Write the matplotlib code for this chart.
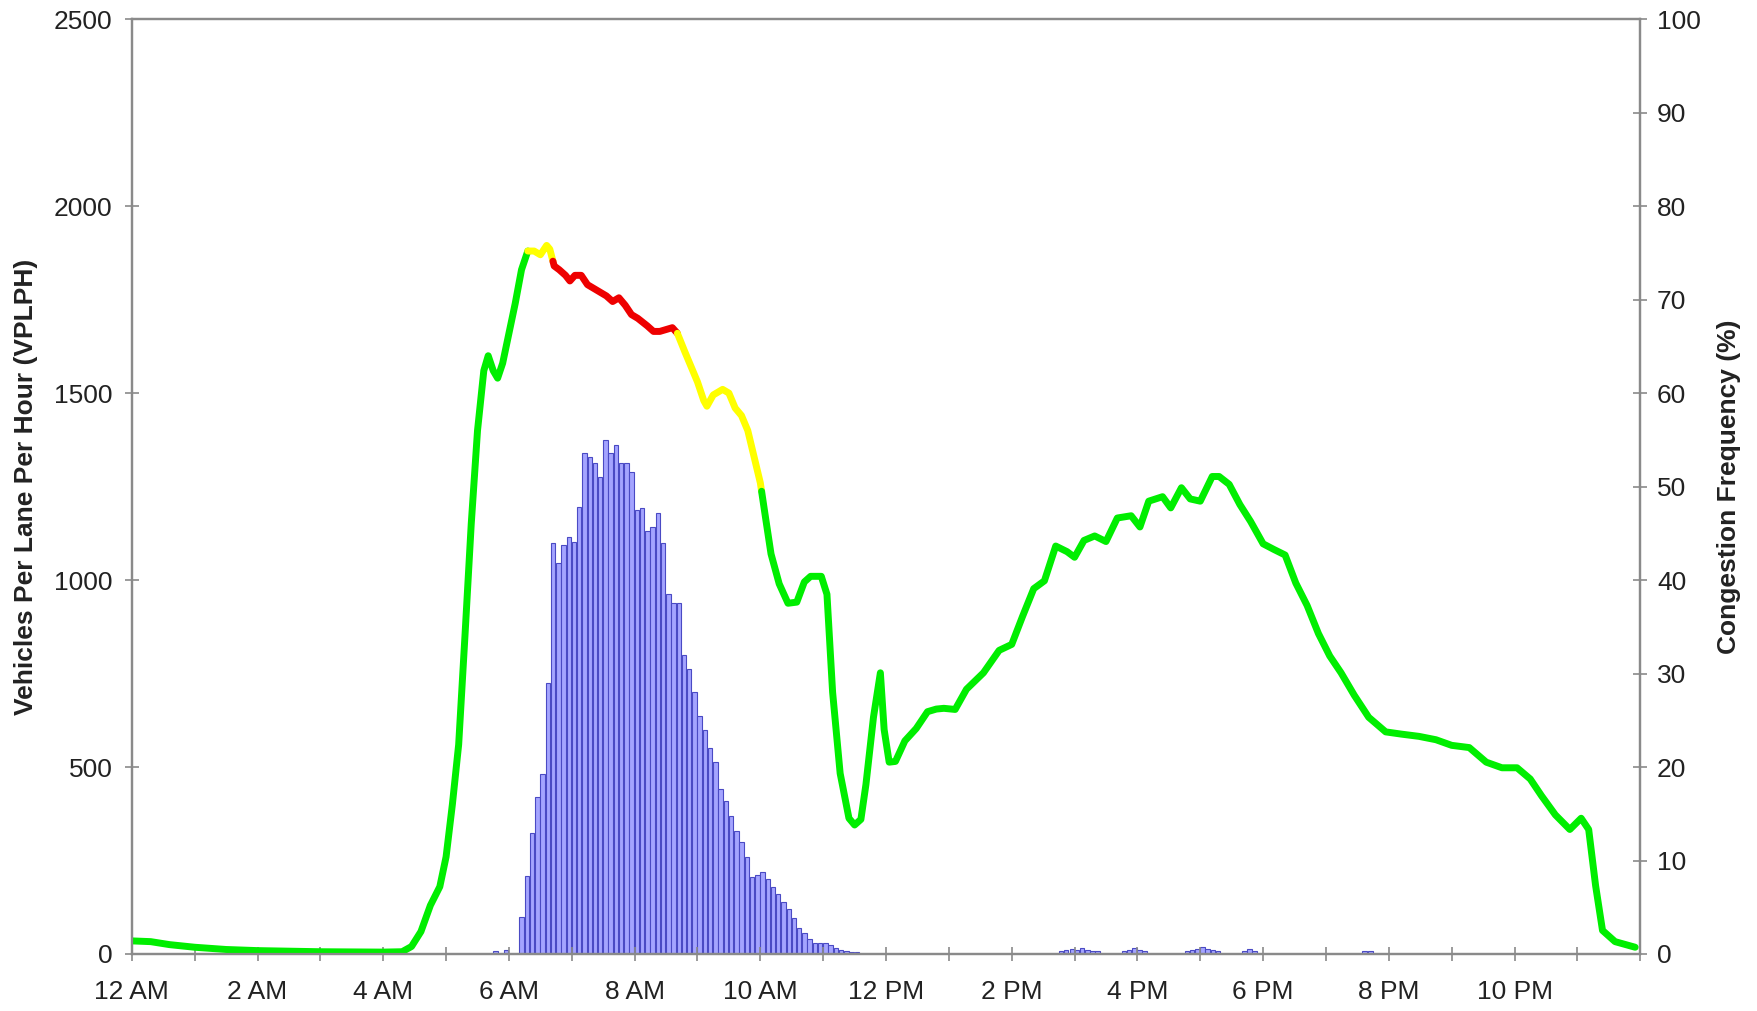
import numpy as np
import matplotlib
matplotlib.use("Agg")
import matplotlib.pyplot as plt

plt.rcParams["font.family"] = ["Liberation Sans", "DejaVu Sans"]
plt.rcParams["font.size"] = 19

# volume line (hour of day, vehicles per lane per hour)
flow_hours = [
    0.0, 0.3, 0.6, 1.0, 1.5, 2.0, 3.0, 4.0, 4.3, 4.45, 4.6, 4.75, 4.9, 5.0,
    5.1, 5.2, 5.3, 5.4, 5.5, 5.6, 5.67, 5.75, 5.82, 5.9, 6.0, 6.1, 6.2, 6.3,
    6.4, 6.5, 6.6, 6.65, 6.72, 6.8, 6.9, 6.97, 7.05, 7.15, 7.25, 7.35, 7.45,
    7.55, 7.65, 7.75, 7.85, 7.95, 8.05, 8.2, 8.3, 8.4, 8.5, 8.6, 8.68, 8.8,
    8.9, 9.0, 9.1, 9.15, 9.25, 9.4, 9.5, 9.6, 9.7, 9.8, 9.9, 10.0, 10.08,
    10.17, 10.3, 10.44, 10.58, 10.7, 10.8, 10.97, 11.06, 11.15, 11.27, 11.41,
    11.5, 11.6, 11.68, 11.8, 11.91, 11.97, 12.05, 12.15, 12.3, 12.48, 12.66,
    12.8, 12.92, 13.1, 13.28, 13.55, 13.8, 14.0, 14.17, 14.35, 14.52, 14.7,
    14.88, 15.0, 15.15, 15.32, 15.5, 15.68, 15.9, 16.04, 16.18, 16.4, 16.53,
    16.7, 16.84, 17.0, 17.19, 17.3, 17.46, 17.63, 17.8, 18.0, 18.17, 18.35,
    18.52, 18.7, 18.88, 19.06, 19.24, 19.45, 19.68, 19.95, 20.2, 20.48,
    20.75, 21.0, 21.28, 21.55, 21.8, 22.04, 22.25, 22.43, 22.65, 22.88,
    23.06, 23.18, 23.29, 23.4, 23.6, 23.92,
]
flow_vplph = [
    35, 33, 25, 18, 12, 9, 6, 5, 6, 20, 60, 130, 180, 260,
    400, 560, 850, 1150, 1400, 1560, 1600, 1560, 1540, 1580, 1660, 1740, 1830, 1880,
    1880, 1870, 1895, 1885, 1840, 1830, 1815, 1800, 1815, 1815, 1790, 1780, 1770,
    1760, 1745, 1755, 1735, 1710, 1700, 1680, 1665, 1665, 1670, 1675, 1660, 1610,
    1570, 1530, 1480, 1465, 1495, 1510, 1500, 1460, 1440, 1400, 1330, 1260, 1170,
    1070, 990, 938, 941, 995, 1010, 1010, 962, 700, 483, 363,
    345, 360, 453, 633, 752, 600, 513, 515, 570, 603, 648,
    655, 657, 654, 708, 752, 812, 828, 902, 977, 998, 1091,
    1076, 1061, 1106, 1118, 1103, 1166, 1172, 1142, 1211, 1223, 1193,
    1247, 1217, 1211, 1277, 1277, 1256, 1202, 1157, 1097, 1082, 1067,
    992, 932, 857, 797, 752, 692, 633, 594, 588, 582,
    573, 558, 552, 513, 498, 498, 468, 423, 372, 333,
    363, 333, 183, 63, 33, 18,
]

# congestion state of the line: (start hour, end hour, colour)
state_spans = [
    (0.0, 6.3, "#00ee00"),
    (6.3, 6.7, "#ffff00"),
    (6.7, 8.68, "#ee0000"),
    (8.68, 10.02, "#ffff00"),
    (10.02, 24.0, "#00ee00"),
]

# congestion frequency (%), 5-minute bins starting 6:10 AM
freq_start_hour = 6 + 10 / 60
freq_morning = [
    4.0, 8.3, 12.9, 16.8, 19.3, 29.0, 44.0, 41.8, 43.7, 44.6, 44.1, 47.8,
    53.6, 53.2, 52.5, 51.0, 55.0, 53.6, 54.4, 52.5, 52.5, 51.6, 47.5, 47.7,
    45.2, 45.7, 47.2, 44.0, 38.5, 37.6, 37.5, 32.0, 30.5, 28.0, 25.5, 24.0,
    22.0, 20.5, 17.6, 16.4, 14.8, 13.2, 12.0, 10.4, 8.2, 8.4, 8.8, 8.0,
    7.2, 6.4, 5.6, 4.8, 3.8, 2.8, 2.2, 1.6, 1.2, 1.2, 1.2, 1.0, 0.6, 0.4,
    0.3, 0.2, 0.2,
]
# scattered small values elsewhere in the day (hour, %)
freq_other_hours = [5.75, 5.92, 14.75, 14.83, 14.92, 15.0, 15.08, 15.17, 15.25,
                    15.33, 15.75, 15.83, 15.92, 16.0, 16.08, 16.75, 16.83,
                    16.92, 17.0, 17.08, 17.17, 17.25, 17.67, 17.75, 17.83,
                    19.58, 19.67]
freq_other = [0.3, 0.4, 0.3, 0.4, 0.5, 0.4, 0.6, 0.4, 0.3, 0.3, 0.3, 0.4, 0.6,
              0.4, 0.3, 0.3, 0.4, 0.5, 0.7, 0.5, 0.4, 0.3, 0.3, 0.5, 0.3,
              0.3, 0.3]

hour_ticks = list(range(25))
hour_labels = ["12 AM", "", "2 AM", "", "4 AM", "", "6 AM", "", "8 AM", "",
               "10 AM", "", "12 PM", "", "2 PM", "", "4 PM", "", "6 PM", "",
               "8 PM", "", "10 PM", "", ""]

grey = "#8a8a8a"
fig = plt.figure(figsize=(17.58, 10.11), dpi=100)
ax = fig.add_axes([0.075, 0.0564, 0.858, 0.9246])
ax2 = ax.twinx()

# bars on the right axis, behind the line
bin_w = 5 / 60
morning_x = freq_start_hour + bin_w * np.arange(len(freq_morning))
ax2.bar(morning_x, freq_morning, width=bin_w * 0.85, color="#a4a4ff",
        edgecolor="#4a4ac4", linewidth=0.8, align="edge")
ax2.bar(freq_other_hours, freq_other, width=bin_w * 0.85, color="#a4a4ff",
        edgecolor="#4a4ac4", linewidth=0.8, align="edge")

ax.set_zorder(ax2.get_zorder() + 1)
ax.patch.set_visible(False)

hrs = np.array(flow_hours)
vals = np.array(flow_vplph)
for start, end, col in state_spans:
    m = (hrs >= start) & (hrs <= end)
    x = list(hrs[m])
    y = list(vals[m])
    # join segments at the boundaries
    if start > 0:
        x.insert(0, start)
        y.insert(0, np.interp(start, hrs, vals))
    if end < hrs[-1]:
        x.append(end)
        y.append(np.interp(end, hrs, vals))
    ax.plot(x, y, color=col, lw=5, solid_capstyle="round",
            solid_joinstyle="round")

ax.set_xlim(0, 24)
ax.set_ylim(0, 2500)
ax2.set_ylim(0, 100)
ax.set_xticks(hour_ticks)
ax.set_xticklabels(hour_labels)
ax.set_yticks(range(0, 2501, 500))
ax2.set_yticks(range(0, 101, 10))

for a in (ax, ax2):
    for s in a.spines.values():
        s.set_color(grey)
        s.set_linewidth(1.6)
ax.tick_params(axis="x", direction="inout", length=10, width=1.2, color=grey,
               pad=14, labelcolor="#222222")
ax.tick_params(axis="y", direction="inout", length=10, width=1.2, color=grey,
               pad=9, labelcolor="#222222")
ax2.tick_params(axis="y", direction="inout", length=10, width=1.2, color=grey,
                pad=7, labelcolor="#222222")

ax.set_ylabel("Vehicles Per Lane Per Hour (VPLPH)", fontweight="bold",
              color="#222222")
ax.yaxis.set_label_coords(-0.062, 0.5)
ax2.set_ylabel("Congestion Frequency (%)", fontweight="bold", color="#222222")
ax2.yaxis.set_label_coords(1.051, 0.5)

fig.savefig("out.png", dpi=100)
